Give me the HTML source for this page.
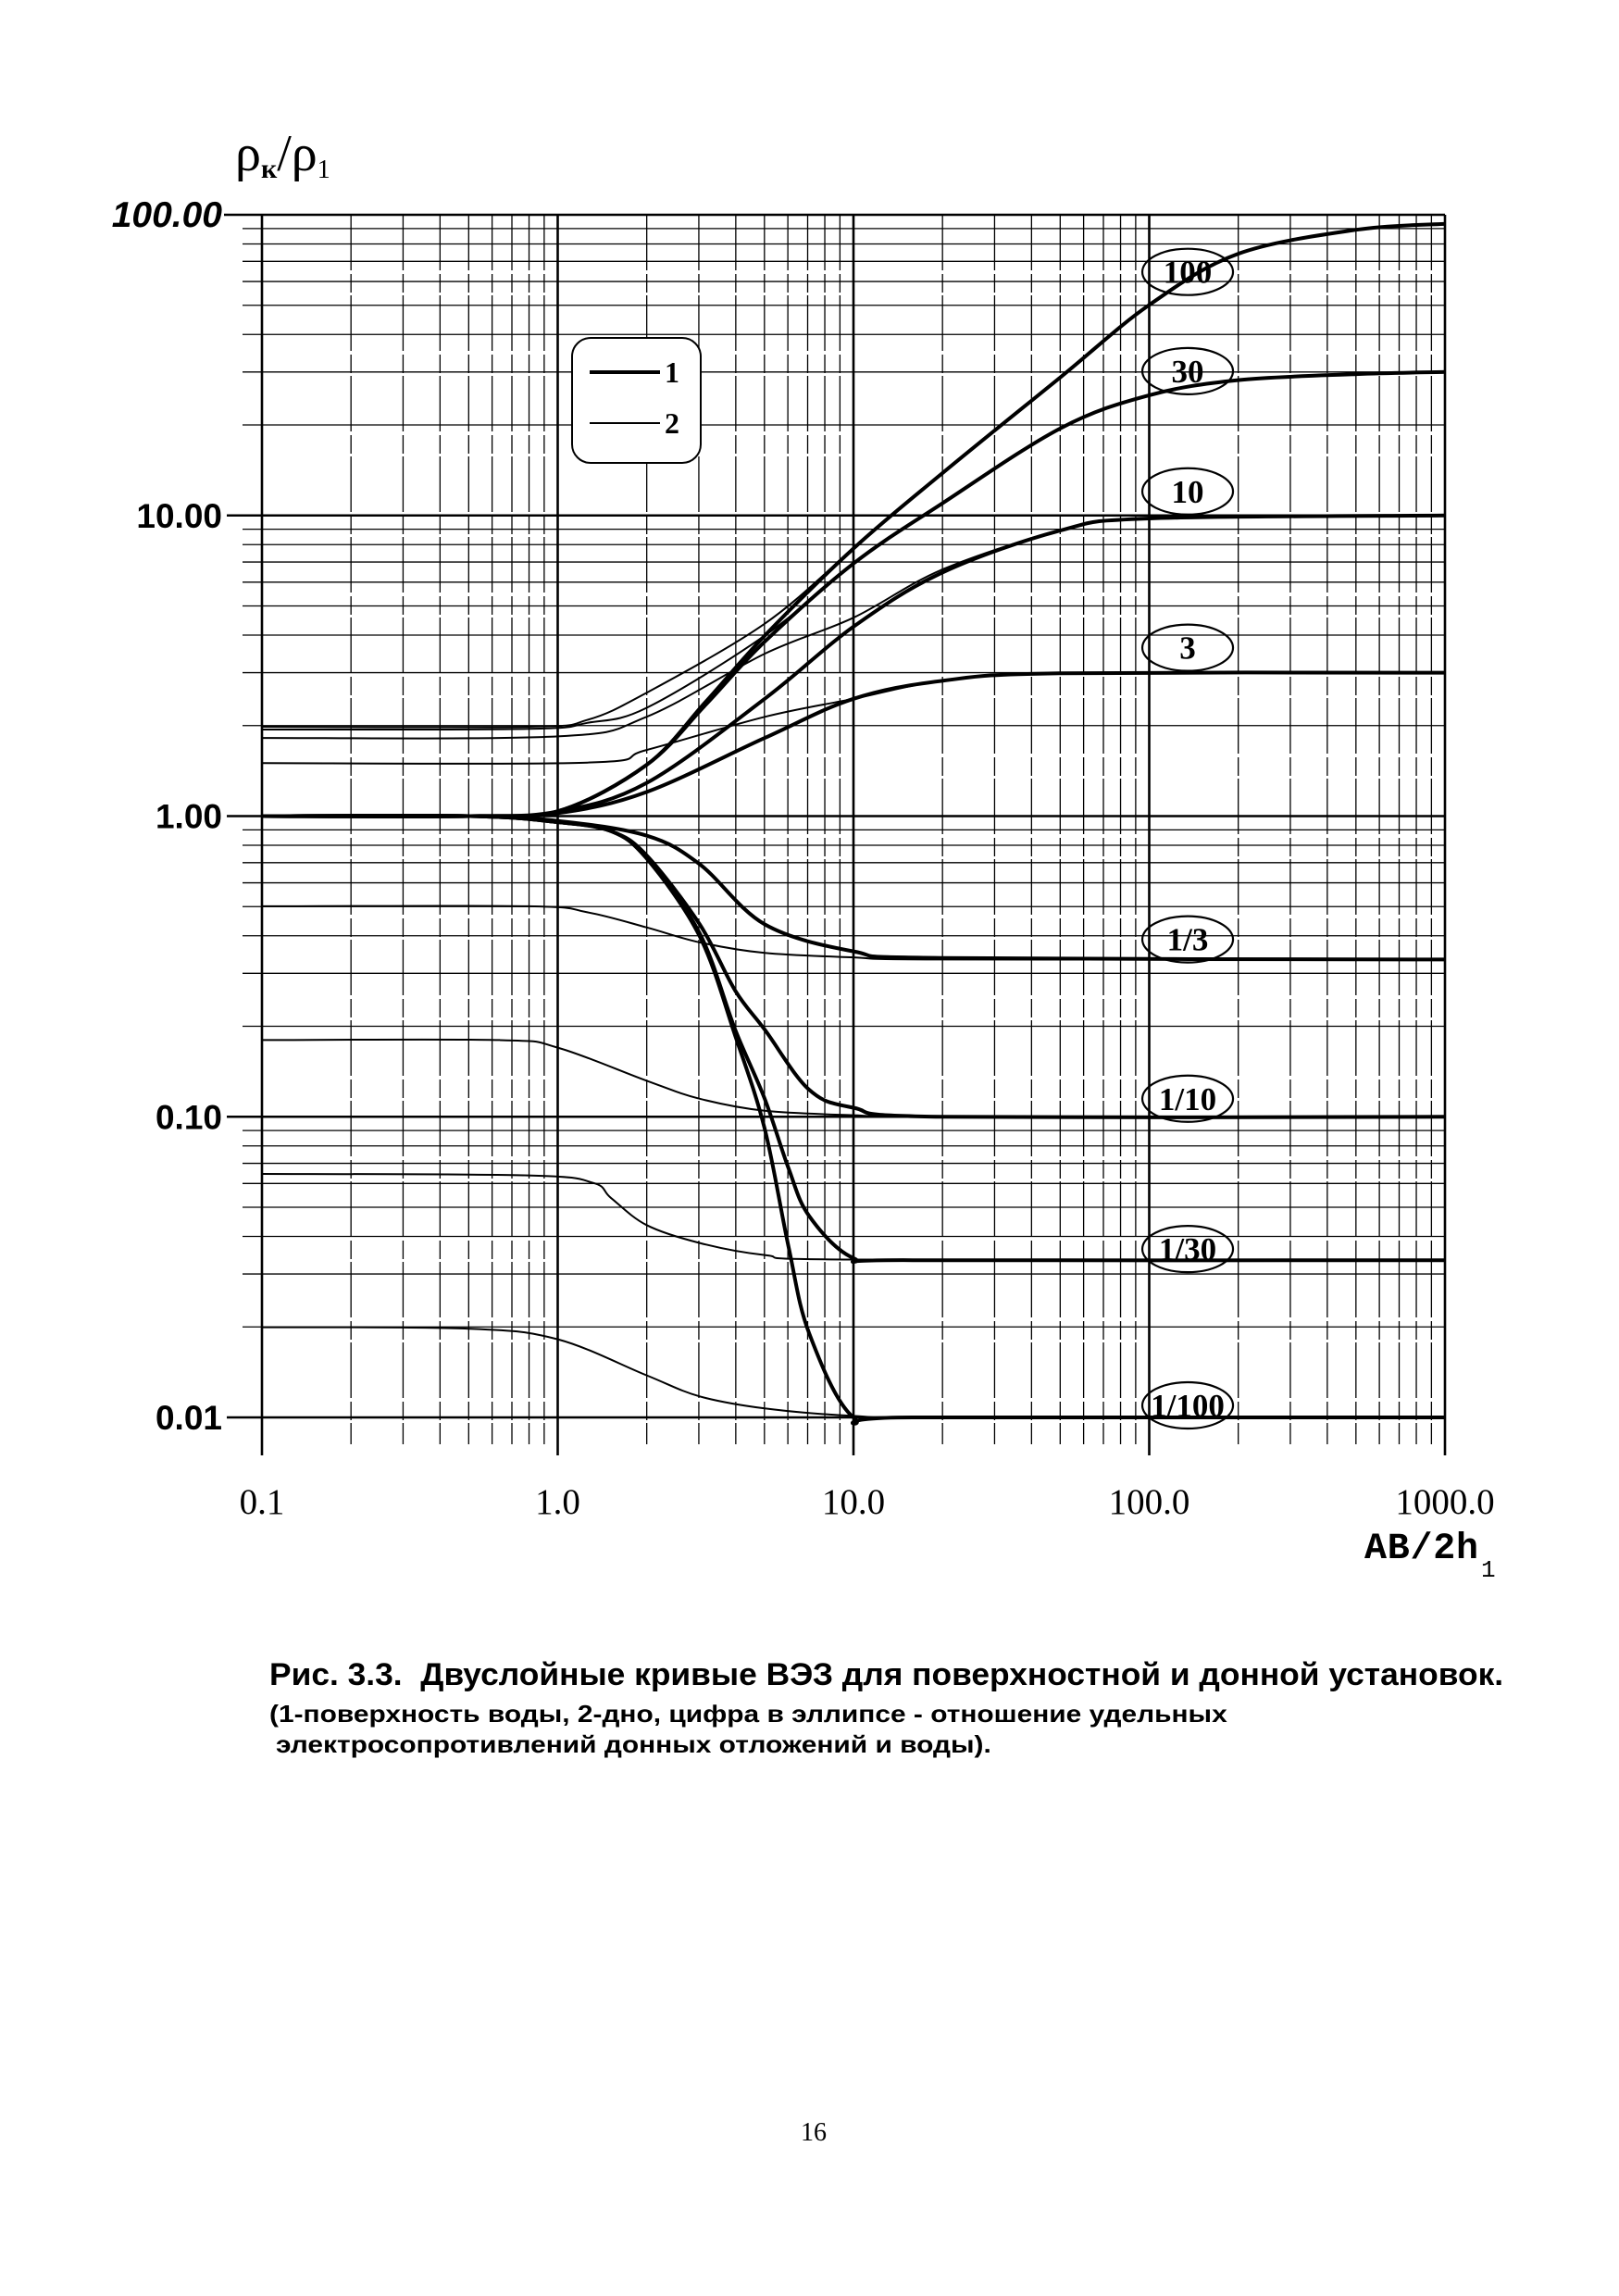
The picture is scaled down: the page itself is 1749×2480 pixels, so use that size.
<!DOCTYPE html>
<html><head><meta charset="utf-8">
<style>
html,body{margin:0;padding:0;background:#fff;}
body{width:1749px;height:2480px;position:relative;overflow:hidden;}
svg{position:absolute;left:0;top:0;}
.cap{position:absolute;font-family:"Liberation Sans","DejaVu Sans",sans-serif;font-weight:bold;color:#000;white-space:nowrap;}
</style></head><body>
<svg id="s" width="1749" height="2480" viewBox="0 0 1749 2480" xmlns="http://www.w3.org/2000/svg"></svg>
<div class="cap" style="left:291px;top:1790px;font-size:34px;transform-origin:0 0;transform:scaleX(1.04);">Рис. 3.3.&nbsp; Двуслойные кривые ВЭЗ для поверхностной и донной установок.</div>
<div class="cap" style="left:291px;top:1836px;font-size:26px;transform-origin:0 0;transform:scaleX(1.15);">(1-поверхность воды, 2-дно, цифра в эллипсе - отношение удельных</div>
<div class="cap" style="left:298px;top:1869px;font-size:26px;transform-origin:0 0;transform:scaleX(1.15);">электросопротивлений донных отложений и воды).</div>
<script>
const X0=283,DX=319.5,Y0=232,DY=324.75;
const X=lx=>X0+(lx+1)*DX, Y=ly=>Y0+(2-ly)*DY;
let o='';
for(let d=-1;d<3;d++){for(let m=1;m<10;m++){const lx=d+Math.log10(m);const x=X(lx);
 o+=`<line x1="${x}" y1="${Y0}" x2="${x}" y2="${m==1?1572:1560}" stroke="#000" stroke-width="${m==1?2.6:1.3}" ${m==1?'':'stroke-dasharray="60 4 20 3"'}/>`;}}
o+=`<line x1="${X(3)}" y1="${Y0}" x2="${X(3)}" y2="1572" stroke="#000" stroke-width="2.6"/>`;
for(let d=-2;d<2;d++){for(let m=1;m<10;m++){const ly=d+Math.log10(m);const y=Y(ly);
 o+=`<line x1="${m==1?245:262}" y1="${y}" x2="${X(3)}" y2="${y}" stroke="#000" stroke-width="${m==1?2.6:1.3}"/>`;}}
o+=`<line x1="242" y1="${Y(2)}" x2="${X(3)}" y2="${Y(2)}" stroke="#000" stroke-width="2.6"/>`;
function path(p,w){let d=`M${X(p[0][0]).toFixed(1)},${Y(p[0][1]).toFixed(1)}`;
 for(let i=0;i<p.length-1;i++){const a=p[Math.max(0,i-1)],b=p[i],c=p[i+1],e=p[Math.min(p.length-1,i+2)];
  const c1=[b[0]+(c[0]-a[0])/6,b[1]+(c[1]-a[1])/6],c2=[c[0]-(e[0]-b[0])/6,c[1]-(e[1]-b[1])/6];
  d+=`C${X(c1[0]).toFixed(1)},${Y(c1[1]).toFixed(1)} ${X(c2[0]).toFixed(1)},${Y(c2[1]).toFixed(1)} ${X(c[0]).toFixed(1)},${Y(c[1]).toFixed(1)}`;}
 return `<path d="${d}" fill="none" stroke="#000" stroke-width="${w}" stroke-linejoin="round"/>`;}
const T100=[[-1,0],[-0.3,0],[0,0.016],[0.3,0.17],[0.5,0.38],[0.7,0.6],[1,0.89],[1.3,1.14],[1.7,1.46],[2,1.70],[2.3,1.87],[2.7,1.95],[3,1.97]];
const T30=[[-1,0],[-0.3,0],[0,0.016],[0.3,0.17],[0.5,0.37],[0.7,0.58],[1,0.84],[1.3,1.04],[1.7,1.29],[2,1.40],[2.3,1.45],[2.7,1.47],[3,1.477]];
const T10=[[-1,0],[-0.3,0],[0,0.015],[0.3,0.11],[0.7,0.39],[1,0.63],[1.3,0.81],[1.7,0.95],[2,0.99],[3,1]];
const T3=[[-1,0],[-0.3,0],[0,0.01],[0.3,0.08],[0.7,0.26],[1,0.39],[1.3,0.45],[1.7,0.475],[3,0.477]];
const L3=[[-1,0],[-0.3,0],[0,-0.016],[0.3,-0.065],[0.48,-0.16],[0.7,-0.36],[1,-0.45],[1.3,-0.472],[3,-0.477]];
const L10=[[-1,0],[-0.3,0],[0,-0.02],[0.18,-0.05],[0.3,-0.13],[0.48,-0.36],[0.6,-0.58],[0.7,-0.71],[0.85,-0.91],[1,-0.97],[1.3,-1],[3,-1]];
const L30=[[-1,0],[-0.3,0],[0,-0.02],[0.18,-0.05],[0.3,-0.14],[0.48,-0.39],[0.6,-0.71],[0.7,-0.94],[0.78,-1.17],[0.85,-1.33],[1,-1.47],[1.2,-1.477],[3,-1.477]];
const L100=[[-1,0],[-0.3,0],[0,-0.02],[0.18,-0.05],[0.3,-0.14],[0.48,-0.4],[0.6,-0.73],[0.7,-1.04],[0.78,-1.43],[0.85,-1.72],[1,-2],[1.2,-2],[3,-2]];
const thin=[
 [[-1,0.297],[-0.1,0.297],[0.1,0.32],[0.3,0.41],[0.7,0.64],[1,0.89],[1.3,1.14],[1.7,1.46],[2,1.70],[2.3,1.87],[2.7,1.95],[3,1.97]],
 [[-1,0.288],[-0.1,0.29],[0.1,0.31],[0.3,0.36],[0.7,0.6],[1,0.84],[1.3,1.04],[1.7,1.29],[2,1.40],[2.3,1.45],[2.7,1.47],[3,1.477]],
 [[-1,0.26],[0,0.265],[0.3,0.33],[0.7,0.54],[1,0.66],[1.3,0.82],[1.7,0.95],[2,0.99],[3,1]],
 [[-1,0.176],[0.1,0.178],[0.3,0.22],[0.7,0.33],[1,0.39],[1.3,0.45],[1.7,0.475],[3,0.477]],
 [[-1,-0.30],[-0.1,-0.30],[0.1,-0.32],[0.3,-0.37],[0.48,-0.42],[0.7,-0.455],[1,-0.47],[1.3,-0.477],[3,-0.477]],
 [[-1,-0.745],[-0.2,-0.745],[0,-0.77],[0.3,-0.88],[0.48,-0.94],[0.7,-0.98],[1,-0.995],[1.3,-1],[3,-1]],
 [[-1,-1.19],[-0.1,-1.195],[0.12,-1.22],[0.18,-1.27],[0.3,-1.36],[0.48,-1.42],[0.7,-1.46],[1,-1.475],[3,-1.477]],
 [[-1,-1.70],[-0.3,-1.705],[0,-1.74],[0.3,-1.86],[0.48,-1.93],[0.7,-1.97],[1,-1.995],[1.3,-2],[3,-2]]];
thin.forEach(p=>o+=path(p,2));
[T100,T30,T10,T3,L3,L10,L30,L100].forEach(p=>o+=path(p,4));
const el=[["100",1.81],["30",1.48],["10",1.08],["3",0.56],["1/3",-0.41],["1/10",-0.94],["1/30",-1.44],["1/100",-1.96]];
el.forEach(([t,ly])=>{const cx=X(2.13),cy=Y(ly);
 o+=`<ellipse cx="${cx}" cy="${cy}" rx="49" ry="25" fill="none" stroke="#000" stroke-width="2.2"/>`;
 o+=`<text x="${cx}" y="${cy+12}" text-anchor="middle" font-family="Liberation Serif,serif" font-weight="bold" font-size="35">${t}</text>`;});
o+=`<rect x="618" y="365" width="139" height="135" rx="20" ry="20" fill="#fff" stroke="#000" stroke-width="2"/>`;
o+=`<line x1="637" y1="402" x2="713" y2="402" stroke="#000" stroke-width="4"/>`;
o+=`<line x1="637" y1="457" x2="713" y2="457" stroke="#000" stroke-width="2"/>`;
o+=`<text x="718" y="413" font-family="Liberation Serif,serif" font-weight="bold" font-size="32">1</text>`;
o+=`<text x="718" y="468" font-family="Liberation Serif,serif" font-weight="bold" font-size="32">2</text>`;
[["100.00",2],["10.00",1],["1.00",0],["0.10",-1],["0.01",-2]].forEach(([t,ly])=>{
 o+=`<text x="240" y="${Y(ly)+13}" text-anchor="end" font-family="Liberation Sans,sans-serif" font-weight="bold" font-size="${ly==2?39:37}" ${ly==2?'font-style="italic"':''}>${t}</text>`;});
[["0.1",-1],["1.0",0],["10.0",1],["100.0",2],["1000.0",3]].forEach(([t,lx])=>{
 o+=`<text x="${X(lx)}" y="1635" text-anchor="middle" font-family="Liberation Serif,serif" font-size="39">${t}</text>`;});
o+=`<text x="1474" y="1683" font-family="Liberation Mono,monospace" font-size="40" font-weight="bold" textLength="123">AB/2h</text>`;
o+=`<text x="1600" y="1703" font-family="Liberation Mono,monospace" font-size="26">1</text>`;
o+=`<text x="254" y="184" font-family="Liberation Serif,serif" font-size="56">ρ<tspan font-size="30" dy="8" font-weight="bold">к</tspan><tspan dy="-8">/ρ</tspan><tspan font-size="28" dy="8">1</tspan></text>`;
o+=`<text x="879" y="2312" text-anchor="middle" font-family="Liberation Serif,serif" font-size="28">16</text>`;
document.getElementById('s').innerHTML=o;
</script>
</body></html>
